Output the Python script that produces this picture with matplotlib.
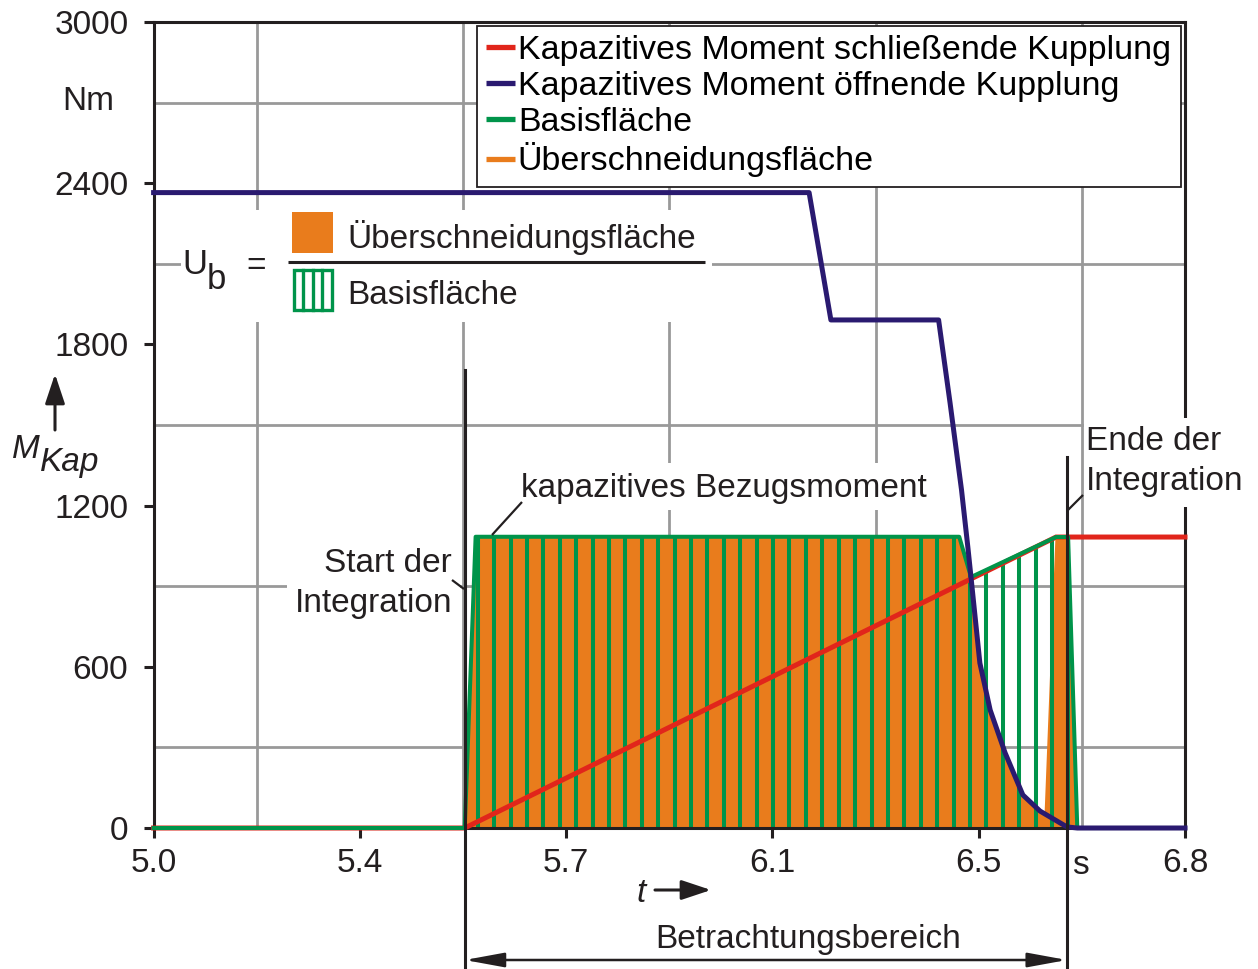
import numpy as np
import matplotlib
matplotlib.use("Agg")
import matplotlib.pyplot as plt
from matplotlib.lines import Line2D
from matplotlib.patches import Rectangle
from matplotlib.ticker import FixedLocator
from matplotlib.transforms import Affine2D, blended_transform_factory

plt.rcParams['font.family'] = ['Liberation Sans', 'DejaVu Sans']

# ---------------- data ----------------
t_close = [5.0, 5.543, 6.575, 6.8]
m_close = [0, 0, 1083, 1083]

t_open = [5.0, 6.144, 6.182, 6.370, 6.390, 6.410, 6.421, 6.4265, 6.442,
          6.460, 6.486, 6.517, 6.547, 6.594, 6.612, 6.8]
m_open = [2365, 2365, 1891, 1891, 1582, 1258, 1046, 934, 614,
          439, 280, 123, 63, 4, 0, 0]

t_base = [5.0, 5.543, 5.562, 6.406, 6.4265, 6.575, 6.596, 6.612, 6.8]
m_base = [0, 0, 1084, 1084, 934, 1083, 1083, 0, 0]

t_over = [5.543, 5.562, 6.406, 6.4265, 6.442, 6.460, 6.486, 6.517, 6.547,
          6.554, 6.573, 6.596, 6.612]
m_over = [0, 1084, 1084, 934, 614, 439, 280, 123, 63,
          52, 1083, 1083, 0]

t_start = 5.543
t_end = 6.594

x_ticks = [5.0, 5.36, 5.72, 6.08, 6.44, 6.8]
x_ticklabels = ['5.0', '5.4', '5.7', '6.1', '6.5', '6.8']
y_ticks = [0, 600, 1200, 1800, 2400, 3000]
y_ticklabels = ['0', '600', '1200', '1800', '2400', '3000']

legend_labels = ['Kapazitives Moment schließende Kupplung',
                 'Kapazitives Moment öffnende Kupplung',
                 'Basisfläche',
                 'Überschneidungsfläche']

# ---------------- style ----------------
RED = '#e1251b'
BLUE = '#2a1a70'
GREEN = '#00944a'
ORANGE = '#e97c1c'
GRID = '#999999'
DARK = '#231f20'
FS = 24

W, H = 1258, 969
fig = plt.figure(figsize=(W / 100, H / 100), dpi=100)
px = Affine2D().scale(1 / W, -1 / H).translate(0, 1) + fig.transFigure

L, R, T, B = 153.6, 1185, 22, 828
ax = fig.add_axes([L / W, 1 - B / H, (R - L) / W, (B - T) / H])
ax.set_xlim(5.0, 6.8)
ax.set_ylim(0, 3000)
bl = blended_transform_factory(ax.transData, px)

# grid
ax.set_axisbelow(True)
ax.xaxis.set_minor_locator(FixedLocator(np.linspace(5.0, 6.8, 11)))
ax.yaxis.set_minor_locator(FixedLocator(np.arange(0, 3001, 300)))
ax.grid(which='minor', color=GRID, lw=2.0)
ax.set_xticks(x_ticks)
ax.set_xticklabels(x_ticklabels)
ax.set_yticks(y_ticks)
ax.set_yticklabels(y_ticklabels)
ax.tick_params(which='major', direction='out', length=7.2, width=2.2,
               color=DARK, labelcolor=DARK, labelsize=FS)
ax.tick_params(axis='y', pad=11)
ax.tick_params(axis='x', pad=7.5)
ax.tick_params(which='minor', length=0)
for s in ax.spines.values():
    s.set_color(DARK)
    s.set_linewidth(2.2)

# overlap area (orange)
ax.fill_between(t_over, 0, m_over, color=ORANGE, lw=0, zorder=1)
# basis area hatch (green vertical stripes)
hatch_first, hatch_step, hatch_n = 5.5656, 0.02864, 37
hx = hatch_first + hatch_step * np.arange(hatch_n)
ax.vlines(hx, 0, np.interp(hx, t_base, m_base), color=GREEN, lw=2.9, zorder=1.2)

ax.plot(t_close, m_close, color=RED, lw=3.6, zorder=3.0, clip_on=False,
        solid_joinstyle='miter')
ax.plot(t_base, m_base, color=GREEN, lw=2.9, zorder=3.1, clip_on=False)
ax.plot(t_open, m_open, color=BLUE, lw=3.6, zorder=3.2, clip_on=False)

# legend
handles = [Line2D([0], [0], color=c, lw=3.8, solid_capstyle='butt')
           for c in (RED, BLUE, GREEN, ORANGE)]
leg = ax.legend(handles, legend_labels, loc='upper left',
                bbox_to_anchor=(477 / W, 1 - 184 / H, 704 / W, 158 / H),
                bbox_transform=fig.transFigure, mode='expand',
                fontsize=24.5, frameon=True, fancybox=False, framealpha=1,
                edgecolor=DARK, handlelength=0.86, handletextpad=0.07,
                borderpad=0.27, labelspacing=0.14, borderaxespad=0)
leg.get_frame().set_linewidth(1.3)
leg.set_zorder(5)

# ---------- annotations ----------
def wbox(x0, y0, x1, y1, z=2.0):
    ax.add_patch(Rectangle((x0, y0), x1 - x0, y1 - y0, transform=px,
                           fc='white', ec='none', zorder=z, clip_on=False))

def txt(x, y, s, **kw):
    kw.setdefault('fontsize', FS)
    kw.setdefault('color', DARK)
    kw.setdefault('va', 'baseline')
    ax.text(x, y, s, transform=px, clip_on=False, **kw)

def seg(x0, y0, x1, y1, lw=1.6, z=4):
    ax.plot([x0, x1], [y0, y1], transform=px, color=DARK, lw=lw,
            clip_on=False, zorder=z, solid_capstyle='butt')

# U_b formula block
wbox(181, 210, 712, 322)
txt(182, 274, 'U', zorder=3, fontsize=25)
txt(207, 289, 'b', zorder=3, fontsize=25)
txt(256, 275, '=', ha='center', zorder=3)
ax.add_patch(Rectangle((292, 212), 41, 41, transform=px, fc=ORANGE,
                       ec='none', zorder=3, clip_on=False))
seg(288, 262, 705, 262, lw=2.2)
txt(347, 248, 'Überschneidungsfläche', zorder=3)
ax.add_patch(Rectangle((293.5, 270), 38, 40, transform=px, fc='white',
                       ec=GREEN, lw=2.4, zorder=3, clip_on=False))
for xi in (303, 312.5, 322):
    ax.plot([xi, xi], [270, 310], transform=px, color=GREEN, lw=2.4,
            clip_on=False, zorder=3.1)
txt(347, 304, 'Basisfläche', zorder=3)

# Start / end of integration
wbox(287, 540, 460, 628)
txt(452, 572, 'Start der', ha='right', zorder=3)
txt(452, 612, 'Integration', ha='right', zorder=3)
seg(452, 580, 464, 589)

wbox(517, 463, 946, 510)
txt(521, 497, 'kapazitives Bezugsmoment', zorder=3)
seg(492, 535, 522, 502)

wbox(1084, 418, 1258, 507, z=2.8)
txt(1086, 450, 'Ende der', zorder=3)
txt(1086, 490, 'Integration', zorder=3)
seg(1068, 510, 1083, 495)

ax.plot([t_start, t_start], [370, 969], transform=bl, color=DARK, lw=2.2,
        clip_on=False, zorder=4)
ax.plot([t_end, t_end], [457, 969], transform=bl, color=DARK, lw=2.2,
        clip_on=False, zorder=4)
ax.annotate('', xy=(t_start, 960), xytext=(t_end, 960), xycoords=bl,
            textcoords=bl, annotation_clip=False,
            arrowprops=dict(arrowstyle='<|-|>,head_length=1.2,head_width=0.22',
                            color=DARK, lw=1.8, mutation_scale=20,
                            shrinkA=0, shrinkB=0))
txt(808, 948, 'Betrachtungsbereich', ha='center')

# axis labels
txt(88, 110, 'Nm', ha='center')
txt(12, 458, 'M', style='italic')
txt(40, 471, 'Kap', style='italic')
ax.annotate('', xy=(55, 374), xytext=(55, 430), xycoords=px, textcoords=px,
            annotation_clip=False,
            arrowprops=dict(arrowstyle='-|>,head_length=0.9,head_width=0.3',
                            color=DARK, lw=2.2, mutation_scale=20,
                            shrinkA=0, shrinkB=0))
txt(636, 902, 't', style='italic')
ax.annotate('', xy=(711, 890), xytext=(655, 890), xycoords=px, textcoords=px,
            annotation_clip=False,
            arrowprops=dict(arrowstyle='-|>,head_length=0.9,head_width=0.3',
                            color=DARK, lw=2.2, mutation_scale=20,
                            shrinkA=0, shrinkB=0))
txt(1080, 874, 's', ha='center')

fig.savefig('out.png', dpi=100)
